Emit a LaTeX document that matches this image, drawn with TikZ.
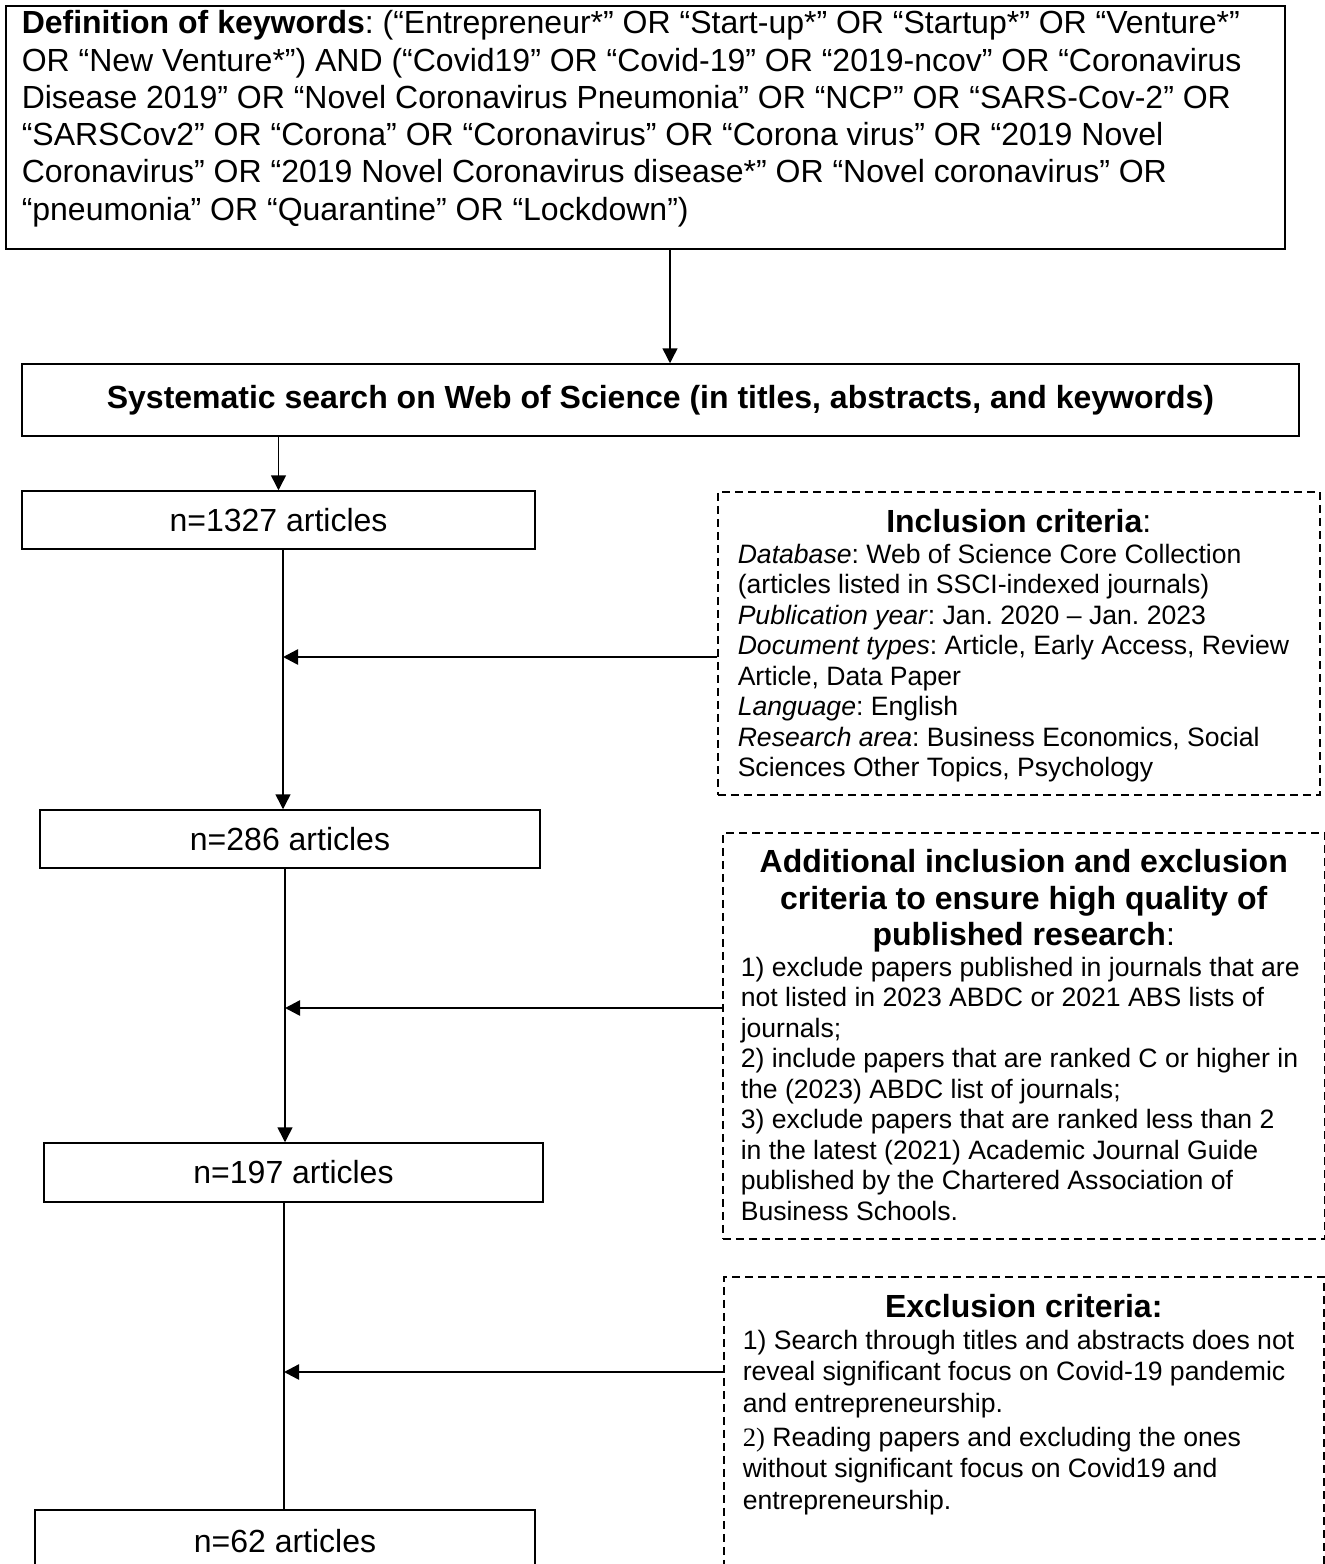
\documentclass[tikz,border=0pt]{standalone}
\usepackage{fontspec}
\setmainfont{Liberation Sans}
\newfontfamily\serifnum{Liberation Serif}
\usetikzlibrary{positioning, arrows.meta}
\newcommand{\plainspacing}{\frenchspacing\spaceskip=0pt\xspaceskip=0pt\relax}
\newcommand{\mainsize}{\fontsize{32}{37.3}\selectfont\plainspacing}
\newcommand{\bodysize}{\fontsize{26.6}{30.5}\selectfont\plainspacing}
\newcommand{\headsize}{\fontsize{32}{36.5}\selectfont\bfseries\plainspacing}

\begin{document}
\begin{tikzpicture}[x=1pt, y=-1pt,
kwbox/.style={draw, line width=1.5pt, anchor=north west, inner xsep=16pt, inner ysep=5pt, font=\mainsize},
searchbox/.style={draw, line width=1.5pt, minimum width=1277pt, minimum height=72pt, font=\mainsize\bfseries},
countbox/.style={draw, line width=1.5pt, minimum width=500pt, minimum height=58pt, inner sep=0pt, font=\mainsize},
critbox/.style={draw, line width=1.5pt, dash pattern=on 8pt off 5pt, anchor=north west, inner ysep=5pt},
flow/.style={-{Triangle[length=15pt, width=15pt]}, line width=1.5pt},
side/.style={-{Triangle[length=15pt, width=15pt]}, line width=2.5pt}
]
\useasboundingbox (0,0) rectangle (1325,1564);

\node[kwbox, text width=1247pt, text height=23pt, text depth=210pt] (kw) at (5,5) {\mainsize\raggedright
\textbf{Definition of keywords}: (“Entrepreneur*” OR “Start-up*” OR “Startup*” OR “Venture*”\\
OR “New Venture*”) AND (“Covid19” OR “Covid-19” OR “2019-ncov” OR “Coronavirus\\
Disease 2019” OR “Novel Coronavirus Pneumonia” OR “NCP” OR “SARS-Cov-2” OR\\
“SARSCov2” OR “Corona” OR “Coronavirus” OR “Corona virus” OR “2019 Novel\\
Coronavirus” OR “2019 Novel Coronavirus disease*” OR “Novel coronavirus” OR\\
“pneumonia” OR “Quarantine” OR “Lockdown”)\par};

\node[searchbox] (search) at (660.5,400) {Systematic search on Web of Science (in titles, abstracts, and keywords)};

\node[countbox, minimum width=513pt] (n1327) at (278.5,520) {n=1327 articles};
\node[countbox] (n286) at (290,839) {n=286 articles};
\node[countbox, minimum width=499pt, minimum height=59pt] (n197) at (293.5,1172.5) {n=197 articles};
\node[countbox, minimum height=62pt] (n62) at (285,1541) {n=62 articles};

\node[critbox, inner xsep=20pt, text width=562pt, text height=36pt, text depth=257pt] (inc) at (717,491) {%
{\headsize\centering Inclusion criteria\mdseries:\par}
\bodysize\raggedright
\textit{Database}: Web of Science Core Collection\\
(articles listed in SSCI-indexed journals)\\
\textit{Publication year}: Jan. 2020 – Jan. 2023\\
\textit{Document types}: Article, Early Access, Review\\
Article, Data Paper\\
\textit{Language}: English\\
\textit{Research area}: Business Economics, Social\\
Sciences Other Topics, Psychology\par};

\node[critbox, inner xsep=18pt, text width=566pt, text height=35pt, text depth=361pt] (add) at (722,832) {%
{\headsize\centering Additional inclusion and exclusion\\
criteria to ensure high quality of\\
published research\mdseries:\par}
\bodysize\raggedright
1) exclude papers published in journals that are\\
not listed in 2023 ABDC or 2021 ABS lists of\\
journals;\\
2) include papers that are ranked C or higher in\\
the (2023) ABDC list of journals;\\
3) exclude papers that are ranked less than 2\\
in the latest (2021) Academic Journal Guide\\
published by the Chartered Association of\\
Business Schools.\par};

\node[critbox, inner xsep=19pt, text width=562pt, text height=36pt, text depth=278pt] (exc) at (723,1276) {%
{\headsize\centering Exclusion criteria:\par}
\bodysize\fontsize{26.6}{31.6}\selectfont\raggedright
1) Search through titles and abstracts does not\\
reveal significant focus on Covid-19 pandemic\\
and entrepreneurship.\\[2pt]
{\serifnum 2)} Reading papers and excluding the ones\\
without significant focus on Covid19 and\\
entrepreneurship.\par};

\coordinate (j0) at (670,300);
\coordinate (j1) at (283,657);
\coordinate (j2) at (285,1008);
\coordinate (j3) at (284,1372);

\draw[flow] (kw.south -| j0) -- (search.north -| j0);
\draw[flow] (search.south -| n1327.north) -- (n1327.north);
\draw[flow] (n1327.south -| j1) -- (n286.north -| j1);
\draw[flow] (n286.south -| j2) -- (n197.north -| j2);
\draw[line width=1.5pt] (n197.south -| j3) -- (n62.north -| j3);

\draw[side] (inc.west |- j1) -- (j1);
\draw[side] (add.west |- j2) -- (j2);
\draw[side] (exc.west |- j3) -- (j3);
\end{tikzpicture}
\end{document}
